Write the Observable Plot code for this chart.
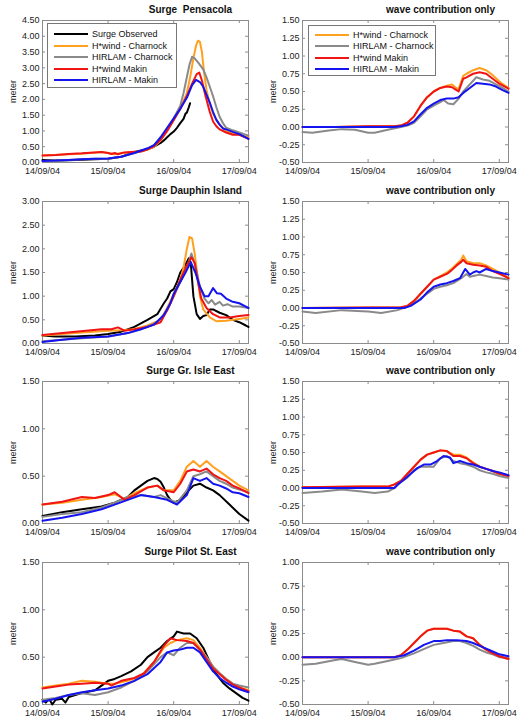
<!DOCTYPE html>
<html>
<head>
<meta charset="utf-8">
<script src="https://cdn.jsdelivr.net/npm/d3@7"></script>
<script src="https://cdn.jsdelivr.net/npm/@observablehq/plot@0.6"></script>
<style>
  html, body { margin: 0; padding: 0; background: #fff; }
  #page { position: relative; width: 519px; height: 720px; font-family: "Liberation Sans", Arial, sans-serif; }
  .panel { position: absolute; }
  .legend { position: absolute; border: 1px solid #777; background: #fff; box-sizing: border-box; }
  .legend .row { position: absolute; left: 0; height: 0; }
  .legend .sw { position: absolute; height: 2px; width: 34px; top: -1px; }
  .legend .lb { position: absolute; font-size: 9px; line-height: 10px; top: -5px; white-space: nowrap; color: #111; }
</style>
</head>
<body>
<div id="page"></div>
<script>
// Time axis: days since 14/09/04 00:00
const dayTicks = [0, 1, 2, 3];
const dayLabels = ["14/09/04", "15/09/04", "16/09/04", "17/09/04"];

const seriesNames = ["Surge Observed", "H*wind - Charnock", "HIRLAM - Charnock", "H*wind Makin", "HIRLAM - Makin"];
const seriesColors = ["#000000", "#ffa01e", "#8a8a8a", "#f01414", "#1414f0"];

// ---- Pensacola ----
const pensObserved = [[0,0.08],[0.1,0.07],[0.2,0.06],[0.4,0.07],[0.6,0.09],[0.8,0.1],[1.0,0.12],[1.2,0.18],[1.35,0.3],[1.45,0.36],[1.6,0.42],[1.7,0.5],[1.8,0.62],[1.85,0.7],[1.9,0.8],[1.95,0.9],[2.0,0.98],[2.05,1.1],[2.1,1.25],[2.15,1.38],[2.18,1.55],[2.2,1.58],[2.23,1.75],[2.25,1.88]];
const pensHwindCharnock = [[0,0.22],[0.2,0.24],[0.4,0.26],[0.6,0.28],[0.8,0.32],[0.9,0.33],[1.0,0.3],[1.1,0.26],[1.2,0.3],[1.3,0.32],[1.5,0.35],[1.6,0.4],[1.7,0.5],[1.8,0.7],[1.9,1.0],[2.0,1.35],[2.1,1.7],[2.2,2.2],[2.25,2.7],[2.3,3.3],[2.34,3.7],[2.37,3.86],[2.4,3.82],[2.43,3.5],[2.46,2.9],[2.5,2.3],[2.55,1.85],[2.6,1.55],[2.65,1.35],[2.7,1.2],[2.8,1.0],[2.9,0.92],[3.0,0.88],[3.14,0.8]];
const pensHirlamCharnock = [[0,0.05],[0.2,0.06],[0.4,0.08],[0.6,0.1],[0.8,0.12],[1.0,0.12],[1.2,0.18],[1.4,0.3],[1.6,0.42],[1.7,0.55],[1.8,0.75],[1.9,1.05],[2.0,1.4],[2.1,1.8],[2.15,2.2],[2.2,2.7],[2.24,3.1],[2.28,3.35],[2.32,3.3],[2.38,3.15],[2.45,2.95],[2.5,2.7],[2.55,2.4],[2.6,2.1],[2.65,1.75],[2.7,1.45],[2.75,1.25],[2.8,1.1],[2.9,1.02],[3.0,0.95],[3.14,0.85]];
const pensHwindMakin = [[0,0.22],[0.2,0.24],[0.4,0.27],[0.6,0.29],[0.8,0.32],[0.9,0.33],[1.0,0.3],[1.05,0.27],[1.1,0.3],[1.15,0.26],[1.25,0.32],[1.4,0.34],[1.5,0.35],[1.6,0.42],[1.7,0.52],[1.8,0.72],[1.9,1.0],[2.0,1.35],[2.1,1.7],[2.2,2.1],[2.28,2.5],[2.35,2.8],[2.39,2.85],[2.43,2.6],[2.48,2.15],[2.55,1.6],[2.6,1.3],[2.65,1.15],[2.7,1.05],[2.8,0.95],[2.9,0.88],[3.0,0.88],[3.14,0.75]];
const pensHirlamMakin = [[0,0.05],[0.2,0.06],[0.4,0.08],[0.6,0.1],[0.8,0.12],[1.0,0.13],[1.2,0.18],[1.4,0.3],[1.6,0.45],[1.7,0.55],[1.8,0.8],[1.9,1.1],[2.0,1.4],[2.1,1.7],[2.2,2.05],[2.28,2.45],[2.34,2.62],[2.4,2.55],[2.45,2.4],[2.5,2.15],[2.55,1.9],[2.6,1.6],[2.65,1.35],[2.7,1.2],[2.75,1.08],[2.8,1.05],[2.9,0.97],[3.0,0.9],[3.14,0.75]];

const pensWaveHwindCharnock = [[0,0],[0.5,0],[1.0,0.01],[1.4,0.01],[1.5,0.02],[1.6,0.06],[1.7,0.15],[1.8,0.3],[1.9,0.42],[2.0,0.5],[2.1,0.55],[2.2,0.58],[2.28,0.6],[2.33,0.56],[2.38,0.53],[2.41,0.62],[2.45,0.72],[2.5,0.75],[2.6,0.8],[2.7,0.83],[2.8,0.8],[2.9,0.73],[3.0,0.64],[3.14,0.55]];
const pensWaveHirlamCharnock = [[0,-0.07],[0.15,-0.08],[0.4,-0.05],[0.6,-0.03],[0.8,-0.04],[1.0,-0.08],[1.1,-0.08],[1.3,-0.04],[1.5,0],[1.6,0.02],[1.7,0.06],[1.8,0.15],[1.9,0.25],[2.0,0.3],[2.1,0.35],[2.15,0.38],[2.22,0.33],[2.3,0.32],[2.38,0.4],[2.45,0.5],[2.55,0.6],[2.65,0.7],[2.75,0.67],[2.85,0.65],[2.95,0.6],[3.05,0.55],[3.14,0.5]];
const pensWaveHwindMakin = [[0,0],[0.5,0],[1.0,0.01],[1.4,0.01],[1.5,0.02],[1.6,0.06],[1.7,0.15],[1.8,0.3],[1.9,0.42],[2.0,0.5],[2.1,0.55],[2.2,0.57],[2.28,0.56],[2.33,0.53],[2.38,0.5],[2.41,0.58],[2.45,0.68],[2.5,0.7],[2.6,0.75],[2.7,0.77],[2.8,0.75],[2.9,0.68],[3.0,0.61],[3.14,0.54]];
const pensWaveHirlamMakin = [[0,0],[1.4,0],[1.5,0.01],[1.6,0.03],[1.7,0.08],[1.8,0.18],[1.9,0.27],[2.0,0.33],[2.1,0.38],[2.2,0.4],[2.3,0.4],[2.38,0.42],[2.45,0.48],[2.55,0.55],[2.65,0.62],[2.75,0.61],[2.85,0.6],[2.95,0.57],[3.05,0.52],[3.14,0.48]];

// ---- Dauphin Island ----
const dauphObserved = [[0,0.17],[0.2,0.15],[0.5,0.15],[0.8,0.17],[1.0,0.2],[1.2,0.25],[1.4,0.35],[1.6,0.5],[1.75,0.62],[1.85,0.85],[1.9,0.95],[1.95,1.1],[2.0,1.15],[2.05,1.3],[2.1,1.5],[2.15,1.6],[2.2,1.72],[2.23,1.8],[2.26,1.7],[2.3,1.0],[2.35,0.62],[2.4,0.52],[2.45,0.58],[2.5,0.6],[2.55,0.72],[2.6,0.72],[2.7,0.65],[2.8,0.6],[2.9,0.5],[3.0,0.45],[3.1,0.38],[3.14,0.35]];
const dauphHwindCharnock = [[0,0.17],[0.5,0.22],[1.0,0.27],[1.2,0.28],[1.4,0.3],[1.6,0.38],[1.8,0.5],[1.9,0.75],[2.0,1.05],[2.1,1.35],[2.15,1.6],[2.2,2.0],[2.24,2.25],[2.28,2.22],[2.32,1.9],[2.36,1.45],[2.4,1.0],[2.45,0.72],[2.55,0.55],[2.65,0.47],[2.8,0.48],[3.0,0.52],[3.14,0.55]];
const dauphHirlamCharnock = [[0,0.05],[0.5,0.1],[1.0,0.15],[1.3,0.22],[1.5,0.3],[1.75,0.45],[1.9,0.7],[2.0,1.0],[2.1,1.3],[2.2,1.6],[2.27,1.9],[2.33,1.65],[2.4,1.2],[2.47,0.95],[2.53,0.85],[2.58,0.92],[2.63,0.82],[2.7,0.88],[2.75,0.8],[2.82,0.83],[2.9,0.78],[3.0,0.78],[3.14,0.75]];
const dauphHwindMakin = [[0,0.18],[0.5,0.25],[0.9,0.3],[1.05,0.3],[1.15,0.34],[1.25,0.27],[1.4,0.3],[1.6,0.35],[1.8,0.45],[1.9,0.7],[2.0,1.0],[2.1,1.35],[2.2,1.65],[2.27,1.82],[2.32,1.7],[2.37,1.3],[2.42,0.95],[2.5,0.75],[2.6,0.62],[2.7,0.55],[2.85,0.55],[3.0,0.58],[3.14,0.6]];
const dauphHirlamMakin = [[0,0.03],[0.3,0.08],[0.6,0.12],[1.0,0.15],[1.3,0.22],[1.5,0.3],[1.7,0.4],[1.85,0.6],[1.95,0.85],[2.0,1.05],[2.1,1.3],[2.18,1.5],[2.26,1.72],[2.33,1.5],[2.4,1.2],[2.47,1.0],[2.53,1.0],[2.6,1.17],[2.66,1.06],[2.72,1.05],[2.8,0.95],[2.9,0.88],[3.0,0.85],[3.1,0.78],[3.14,0.75]];

const dauphWaveHwindCharnock = [[0,0],[1.5,0.01],[1.6,0.03],[1.7,0.1],[1.8,0.2],[1.9,0.3],[2.0,0.4],[2.1,0.45],[2.2,0.5],[2.27,0.55],[2.35,0.62],[2.42,0.68],[2.45,0.74],[2.5,0.66],[2.6,0.63],[2.7,0.63],[2.8,0.6],[2.9,0.55],[3.0,0.5],[3.1,0.45],[3.14,0.42]];
const dauphWaveHirlamCharnock = [[0,-0.05],[0.2,-0.07],[0.6,-0.03],[1.0,-0.05],[1.2,-0.07],[1.45,-0.03],[1.6,0.02],[1.75,0.1],[1.9,0.2],[2.0,0.27],[2.1,0.3],[2.2,0.32],[2.3,0.35],[2.42,0.42],[2.5,0.48],[2.55,0.44],[2.6,0.45],[2.7,0.47],[2.8,0.45],[2.9,0.43],[3.0,0.42],[3.14,0.4]];
const dauphWaveHwindMakin = [[0,0],[1.5,0.01],[1.6,0.03],[1.7,0.1],[1.8,0.2],[1.9,0.3],[2.0,0.4],[2.1,0.44],[2.2,0.48],[2.27,0.53],[2.35,0.6],[2.42,0.65],[2.45,0.68],[2.5,0.63],[2.6,0.61],[2.7,0.6],[2.8,0.58],[2.9,0.52],[3.0,0.48],[3.1,0.44],[3.14,0.42]];
const dauphWaveHirlamMakin = [[0,0],[1.55,0],[1.65,0.03],[1.8,0.12],[1.9,0.22],[2.0,0.3],[2.1,0.33],[2.2,0.35],[2.3,0.38],[2.4,0.42],[2.48,0.55],[2.55,0.47],[2.6,0.5],[2.65,0.52],[2.7,0.5],[2.8,0.55],[2.9,0.52],[3.0,0.5],[3.14,0.47]];

// ---- Gr. Isle East ----
const isleObserved = [[0,0.08],[0.3,0.12],[0.6,0.15],[0.9,0.18],[1.1,0.22],[1.3,0.28],[1.4,0.35],[1.5,0.4],[1.6,0.45],[1.7,0.48],[1.75,0.47],[1.8,0.44],[1.85,0.38],[1.9,0.3],[1.95,0.25],[2.0,0.22],[2.1,0.25],[2.2,0.33],[2.3,0.4],[2.4,0.42],[2.5,0.38],[2.6,0.35],[2.7,0.3],[2.85,0.2],[3.0,0.1],[3.14,0.03]];
const isleHwindCharnock = [[0,0.2],[0.3,0.22],[0.6,0.25],[0.9,0.28],[1.1,0.31],[1.25,0.26],[1.4,0.32],[1.6,0.38],[1.75,0.4],[1.85,0.35],[2.0,0.35],[2.1,0.45],[2.2,0.6],[2.3,0.66],[2.4,0.6],[2.5,0.66],[2.6,0.6],[2.7,0.55],[2.8,0.5],[2.9,0.45],[3.0,0.4],[3.14,0.35]];
const isleHirlamCharnock = [[0,0.07],[0.3,0.1],[0.6,0.12],[0.9,0.17],[1.1,0.22],[1.3,0.28],[1.5,0.3],[1.7,0.28],[1.8,0.3],[1.95,0.25],[2.05,0.22],[2.2,0.35],[2.3,0.5],[2.4,0.52],[2.5,0.55],[2.6,0.5],[2.7,0.45],[2.8,0.42],[2.9,0.38],[3.0,0.36],[3.14,0.33]];
const isleHwindMakin = [[0,0.2],[0.3,0.23],[0.6,0.28],[0.8,0.27],[1.0,0.3],[1.1,0.33],[1.25,0.25],[1.4,0.3],[1.6,0.38],[1.75,0.4],[1.85,0.35],[2.0,0.33],[2.1,0.42],[2.2,0.55],[2.3,0.57],[2.4,0.55],[2.5,0.58],[2.6,0.52],[2.7,0.48],[2.8,0.45],[2.9,0.4],[3.0,0.37],[3.14,0.32]];
const isleHirlamMakin = [[0,0.03],[0.3,0.06],[0.6,0.1],[0.9,0.15],[1.1,0.2],[1.3,0.25],[1.5,0.3],[1.7,0.28],[1.9,0.25],[2.05,0.2],[2.2,0.3],[2.3,0.48],[2.4,0.45],[2.5,0.48],[2.6,0.42],[2.7,0.4],[2.8,0.37],[2.9,0.33],[3.0,0.32],[3.14,0.28]];

const isleWaveHwindCharnock = [[0,0.01],[0.9,0.02],[1.3,0.02],[1.4,0.05],[1.5,0.1],[1.6,0.2],[1.7,0.3],[1.8,0.4],[1.9,0.47],[2.0,0.5],[2.1,0.53],[2.2,0.52],[2.3,0.47],[2.4,0.47],[2.5,0.43],[2.6,0.36],[2.7,0.3],[2.8,0.27],[2.9,0.24],[3.0,0.2],[3.14,0.17]];
const isleWaveHirlamCharnock = [[0,-0.07],[0.3,-0.05],[0.6,-0.02],[0.9,-0.05],[1.1,-0.07],[1.3,-0.05],[1.4,0],[1.5,0.08],[1.6,0.15],[1.7,0.25],[1.8,0.3],[1.9,0.3],[2.0,0.3],[2.1,0.42],[2.2,0.45],[2.3,0.38],[2.4,0.35],[2.5,0.33],[2.6,0.3],[2.7,0.25],[2.8,0.22],[2.9,0.2],[3.0,0.17],[3.14,0.14]];
const isleWaveHwindMakin = [[0,0.01],[0.9,0.02],[1.3,0.02],[1.4,0.05],[1.5,0.1],[1.6,0.2],[1.7,0.3],[1.8,0.4],[1.9,0.47],[2.0,0.5],[2.1,0.53],[2.2,0.52],[2.3,0.45],[2.4,0.45],[2.5,0.42],[2.6,0.35],[2.7,0.3],[2.8,0.27],[2.9,0.24],[3.0,0.2],[3.14,0.17]];
const isleWaveHirlamMakin = [[0,0],[1.4,0],[1.45,0.05],[1.55,0.12],[1.65,0.2],[1.75,0.28],[1.85,0.33],[1.95,0.33],[2.05,0.38],[2.15,0.45],[2.25,0.43],[2.3,0.35],[2.4,0.38],[2.5,0.35],[2.6,0.33],[2.7,0.3],[2.8,0.27],[2.9,0.24],[3.0,0.22],[3.14,0.18]];

// ---- Pilot St. East ----
const pilotObserved = [[0,0.05],[0.05,0.02],[0.1,0.06],[0.15,0.0],[0.2,0.05],[0.3,0.06],[0.35,0.02],[0.4,0.08],[0.5,0.1],[0.6,0.12],[0.8,0.15],[0.9,0.2],[1.0,0.25],[1.1,0.27],[1.2,0.3],[1.35,0.35],[1.5,0.42],[1.6,0.5],[1.7,0.55],[1.8,0.6],[1.9,0.67],[2.0,0.72],[2.05,0.77],[2.15,0.75],[2.25,0.75],[2.35,0.7],[2.45,0.6],[2.55,0.45],[2.65,0.32],[2.75,0.23],[2.85,0.17],[2.95,0.12],[3.05,0.07],[3.14,0.04]];
const pilotHwindCharnock = [[0,0.18],[0.2,0.2],[0.4,0.22],[0.6,0.25],[0.8,0.24],[1.0,0.22],[1.1,0.22],[1.3,0.25],[1.5,0.3],[1.7,0.45],[1.85,0.6],[1.95,0.65],[2.05,0.68],[2.2,0.7],[2.3,0.68],[2.4,0.6],[2.5,0.5],[2.6,0.4],[2.7,0.33],[2.8,0.27],[2.9,0.22],[3.0,0.18],[3.14,0.15]];
const pilotHirlamCharnock = [[0,0.05],[0.2,0.07],[0.4,0.1],[0.6,0.12],[0.8,0.1],[1.0,0.13],[1.2,0.18],[1.4,0.25],[1.6,0.35],[1.8,0.5],[1.9,0.55],[2.0,0.52],[2.1,0.6],[2.2,0.65],[2.3,0.65],[2.4,0.58],[2.5,0.5],[2.6,0.4],[2.7,0.33],[2.8,0.27],[2.9,0.22],[3.0,0.2],[3.14,0.18]];
const pilotHwindMakin = [[0,0.17],[0.2,0.19],[0.4,0.21],[0.6,0.22],[0.8,0.23],[1.0,0.22],[1.05,0.2],[1.2,0.25],[1.4,0.28],[1.55,0.33],[1.7,0.45],[1.85,0.62],[1.95,0.7],[2.05,0.68],[2.2,0.67],[2.3,0.65],[2.4,0.58],[2.5,0.48],[2.6,0.38],[2.7,0.32],[2.8,0.26],[2.9,0.21],[3.0,0.18],[3.14,0.14]];
const pilotHirlamMakin = [[0,0.03],[0.2,0.06],[0.4,0.1],[0.6,0.13],[0.8,0.15],[1.0,0.17],[1.2,0.2],[1.4,0.25],[1.6,0.32],[1.8,0.45],[1.9,0.55],[2.0,0.57],[2.1,0.58],[2.2,0.6],[2.3,0.6],[2.4,0.55],[2.5,0.45],[2.6,0.35],[2.7,0.28],[2.8,0.23],[2.9,0.19],[3.0,0.16],[3.14,0.13]];

const pilotWaveHwindCharnock = [[0,0],[1.4,0],[1.5,0.02],[1.6,0.08],[1.7,0.15],[1.8,0.22],[1.9,0.28],[2.0,0.3],[2.1,0.3],[2.2,0.3],[2.3,0.28],[2.4,0.27],[2.5,0.22],[2.6,0.2],[2.7,0.13],[2.8,0.08],[2.9,0.04],[3.0,0.01],[3.14,-0.02]];
const pilotWaveHirlamCharnock = [[0,-0.08],[0.2,-0.07],[0.5,-0.03],[0.6,-0.02],[0.8,-0.05],[1.0,-0.08],[1.1,-0.07],[1.3,-0.04],[1.5,-0.01],[1.7,0.04],[1.9,0.1],[2.0,0.13],[2.15,0.15],[2.3,0.17],[2.4,0.17],[2.5,0.15],[2.6,0.12],[2.7,0.08],[2.8,0.05],[2.9,0.03],[3.0,0.0],[3.14,-0.01]];
const pilotWaveHwindMakin = [[0,0],[1.4,0],[1.5,0.02],[1.6,0.08],[1.7,0.15],[1.8,0.22],[1.9,0.28],[2.0,0.3],[2.1,0.3],[2.2,0.3],[2.3,0.28],[2.4,0.27],[2.5,0.22],[2.6,0.2],[2.7,0.13],[2.8,0.08],[2.9,0.04],[3.0,0.01],[3.14,-0.02]];
const pilotWaveHirlamMakin = [[0,0],[1.4,0],[1.55,0.02],[1.7,0.07],[1.85,0.13],[2.0,0.17],[2.1,0.17],[2.2,0.18],[2.35,0.18],[2.5,0.17],[2.6,0.15],[2.7,0.12],[2.8,0.09],[2.9,0.06],[3.0,0.03],[3.14,0.01]];

// Y axis settings per row
const surgeTicks = [
  [0, 0.5, 1, 1.5, 2, 2.5, 3, 3.5, 4, 4.5],
  [0, 0.5, 1, 1.5, 2, 2.5, 3],
  [0, 0.5, 1, 1.5],
  [0, 0.5, 1, 1.5]
];
const waveTicks = [
  [-0.5, -0.25, 0, 0.25, 0.5, 0.75, 1, 1.25, 1.5],
  [-0.5, -0.25, 0, 0.25, 0.5, 0.75, 1, 1.25, 1.5],
  [-0.5, -0.25, 0, 0.25, 0.5, 0.75, 1, 1.25, 1.5],
  [-0.5, -0.25, 0, 0.25, 0.5, 0.75, 1]
];
const surgeTitles = ["Surge  Pensacola", "Surge Dauphin Island", "Surge Gr. Isle East", "Surge Pilot St. East"];
const waveTitle = "wave contribution only";

const surgeData = [
  [pensObserved, pensHwindCharnock, pensHirlamCharnock, pensHwindMakin, pensHirlamMakin],
  [dauphObserved, dauphHwindCharnock, dauphHirlamCharnock, dauphHwindMakin, dauphHirlamMakin],
  [isleObserved, isleHwindCharnock, isleHirlamCharnock, isleHwindMakin, isleHirlamMakin],
  [pilotObserved, pilotHwindCharnock, pilotHirlamCharnock, pilotHwindMakin, pilotHirlamMakin]
];
const waveData = [
  [pensWaveHwindCharnock, pensWaveHirlamCharnock, pensWaveHwindMakin, pensWaveHirlamMakin],
  [dauphWaveHwindCharnock, dauphWaveHirlamCharnock, dauphWaveHwindMakin, dauphWaveHirlamMakin],
  [isleWaveHwindCharnock, isleWaveHirlamCharnock, isleWaveHwindMakin, isleWaveHirlamMakin],
  [pilotWaveHwindCharnock, pilotWaveHirlamCharnock, pilotWaveHwindMakin, pilotWaveHirlamMakin]
];

// Layout
const W = 259, H = 180, frameH = 142, frameW = 206;
const rowTop = [0, 180, 360, 540];
const frameTop = [20, 21, 21, 22];
const colLeft = [0, 260];
const axisColor = "#8c8c8c";

function panel({lines, colors, ticks, title, titleDx, mt}) {
  const marks = [
    Plot.frame({stroke: axisColor}),
    // inward tick marks on all four sides
    Plot.tickX(dayTicks, {x: d => d, insetTop: frameH - 3, stroke: axisColor}),
    Plot.tickX(dayTicks, {x: d => d, insetBottom: frameH - 3, stroke: axisColor}),
    Plot.tickY(ticks, {y: d => d, insetRight: frameW - 3, stroke: axisColor}),
    Plot.tickY(ticks, {y: d => d, insetLeft: frameW - 3, stroke: axisColor}),
    Plot.axisX({ticks: dayTicks, tickFormat: d => dayLabels[d], tickSize: 0, tickPadding: 5, label: null, fill: "#222"}),
    Plot.axisY({ticks, tickFormat: d => d.toFixed(2), tickSize: 0, tickPadding: 3, label: "meter", labelAnchor: "center", labelArrow: "none", labelOffset: 33, fill: "#222"}),
    ...lines.map((data, i) => Plot.line(data, {x: d => d[0], y: d => d[1], stroke: colors[i], strokeWidth: 2, strokeLinejoin: "round"})),
    Plot.text([title], {frameAnchor: "top", dx: titleDx, dy: -11, lineAnchor: "middle", fontWeight: "bold", fontSize: 10, fill: "#111"})
  ];
  return Plot.plot({
    width: W, height: H,
    marginLeft: 42, marginRight: 11, marginTop: mt, marginBottom: H - mt - frameH,
    x: {domain: [0, 3.14]},
    y: {domain: [ticks[0], ticks[ticks.length - 1]]},
    style: {fontFamily: '"Liberation Sans", Arial, sans-serif', fontSize: "9px", background: "#fff", overflow: "visible"},
    marks
  });
}

function legend(names, colors, {left, top, width, height, first}) {
  const box = document.createElement("div");
  box.className = "legend";
  Object.assign(box.style, {left: left + "px", top: top + "px", width: width + "px", height: height + "px"});
  names.forEach((name, i) => {
    const row = document.createElement("div");
    row.className = "row";
    row.style.top = (first + i * 11.5) + "px";
    const sw = document.createElement("div");
    sw.className = "sw";
    sw.style.left = "6px";
    sw.style.background = colors[i];
    const lb = document.createElement("div");
    lb.className = "lb";
    lb.style.left = "44px";
    lb.textContent = name;
    row.append(sw, lb);
    box.append(row);
  });
  return box;
}

const page = document.getElementById("page");
for (let r = 0; r < 4; r++) {
  const left = panel({lines: surgeData[r], colors: seriesColors, ticks: surgeTicks[r], title: surgeTitles[r], titleDx: 45, mt: frameTop[r]});
  left.classList.add("panel");
  Object.assign(left.style, {left: colLeft[0] + "px", top: rowTop[r] + "px", position: "absolute"});
  page.append(left);

  const right = panel({lines: waveData[r], colors: seriesColors.slice(1), ticks: waveTicks[r], title: waveTitle, titleDx: 35, mt: frameTop[r]});
  right.classList.add("panel");
  Object.assign(right.style, {left: colLeft[1] + "px", top: rowTop[r] + "px", position: "absolute"});
  page.append(right);
}

page.append(legend(seriesNames, seriesColors, {left: 47, top: 23, width: 130, height: 65, first: 10}));
page.append(legend(seriesNames.slice(1), seriesColors.slice(1), {left: 308, top: 25, width: 128, height: 51, first: 8.5}));
</script>
</body>
</html>
